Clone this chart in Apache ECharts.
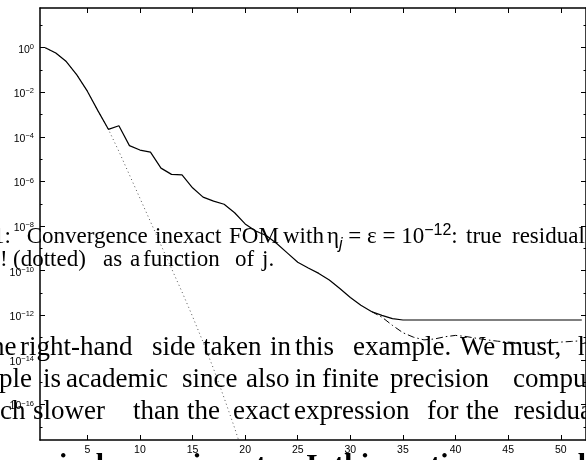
<!DOCTYPE html>
<html>
<head>
<meta charset="utf-8">
<script src="https://cdn.jsdelivr.net/npm/echarts@6/dist/echarts.min.js"></script>
<style>
  html, body { margin: 0; padding: 0; background: #fff; }
  #chart { width: 586px; height: 460px; }
</style>
</head>
<body>
<div id="chart"></div>
<script>
// iteration number j
var iterations = [1, 2, 3, 4, 5, 6, 7, 8, 9, 10, 11, 12, 13, 14, 15, 16, 17, 18, 19, 20,
  21, 22, 23, 24, 25, 26, 27, 28, 29, 30, 31, 32, 33, 34, 35, 36, 37, 38, 39, 40,
  41, 42, 43, 44, 45, 46, 47, 48, 49, 50, 51, 52];
// log10 of the residual norms
var solidRes = [0, -0.24, -0.62, -1.22, -1.95, -2.82, -3.66, -3.50, -4.39, -4.59,
  -4.68, -5.40, -5.68, -5.70, -6.28, -6.70, -6.88, -7.02, -7.40, -7.90,
  -8.22, -8.42, -8.78, -9.20, -9.62, -9.88, -10.12, -10.42, -10.80, -11.20,
  -11.55, -11.83, -12.00, -12.15, -12.21, -12.21, -12.21, -12.21, -12.21, -12.21,
  -12.21, -12.21, -12.21, -12.21, -12.21, -12.21, -12.21, -12.21, -12.21, -12.21,
  -12.21, -12.21];
var dottedIter = [1, 2, 3, 4, 5, 6, 7, 8, 9, 10, 11, 12, 13, 14, 15, 16, 17, 18, 19, 20];
var dottedRes = [0, -0.24, -0.62, -1.22, -1.95, -2.82, -3.66, -4.65, -5.70, -6.75,
  -7.80, -8.85, -9.90, -10.95, -12.05, -13.20, -14.40, -15.70, -17.05, -18.50];
var dashDotIter = [32, 33, 34, 35, 36, 37, 38, 39, 40, 41, 42, 43, 44, 45, 46, 47, 48, 49, 50, 51, 52];
var dashDotRes = [-11.83, -12.08, -12.45, -12.78, -12.98, -13.10, -13.06, -12.96, -12.90, -12.95,
  -13.03, -13.10, -13.16, -13.20, -13.23, -13.25, -13.25, -13.23, -13.20, -13.17, -13.14];

var xTicks = [5, 10, 15, 20, 25, 30, 35, 40, 45, 50];
var yTicksMajor = [-16, -14, -12, -10, -8, -6, -4, -2, 0];
var yTicksMinor = [-17, -15, -13, -11, -9, -7, -5, -3, -1, 1];

var xMin = 0.5, xMax = 52.4;
var yMin = -17.59, yMax = 1.78;

var axisFont = 'Liberation Sans, Arial, sans-serif';
var textFont = 'Liberation Serif, Times New Roman, serif';

function pairs(xs, ys) {
  return xs.map(function (x, i) { return [x, ys[i]]; });
}

function xAxis(position, withLabels) {
  return {
    type: 'value', position: position, min: xMin, max: xMax,
    axisLine: { show: true, onZero: false, lineStyle: { color: '#000', width: 1.5 } },
    axisTick: { show: true, inside: true, length: 5, customValues: xTicks, lineStyle: { color: '#000' } },
    axisLabel: withLabels ? {
      customValues: xTicks, margin: 5, color: '#000', fontSize: 10.5, fontFamily: axisFont
    } : { show: false },
    splitLine: { show: false }
  };
}

function yAxis(position, ticks, len, withLine, withLabels) {
  return {
    type: 'value', position: position, min: yMin, max: yMax,
    axisLine: { show: withLine, onZero: false, lineStyle: { color: '#000', width: 1.5 } },
    axisTick: { show: true, inside: true, length: len, customValues: ticks, lineStyle: { color: '#000' } },
    axisLabel: withLabels ? {
      customValues: ticks, margin: 6, color: '#000', padding: [4, 0, 0, 0],
      formatter: function (v) {
        var e = Math.round(v);
        return '{b|10}{s|' + (e === 0 ? '0' : '\u2212' + (-e)) + '}';
      },
      rich: {
        b: { fontSize: 10.5, fontFamily: axisFont, color: '#000', lineHeight: 14 },
        s: { fontSize: 7.5, fontFamily: axisFont, color: '#000', lineHeight: 8, verticalAlign: 'top' }
      }
    } : { show: false },
    splitLine: { show: false }
  };
}

// page text that overlaps the figure
function words(list, baseline, size, extra) {
  return list.map(function (w) {
    var st = { text: w[1], fill: '#000', fontFamily: textFont, fontSize: size,
      align: 'left', verticalAlign: 'middle' };
    for (var k in extra) st[k] = extra[k];
    return { type: 'text', x: w[0], y: baseline - 0.34 * size, z: 100, silent: true, style: st };
  });
}

var capSize = 23, parSize = 27;
var mathRich = {
  i: { fontStyle: 'italic' },
  sub: { fontSize: 16, fontStyle: 'italic', verticalAlign: 'bottom', lineHeight: 16 },
  sup: { fontSize: 16, verticalAlign: 'top', lineHeight: 16 }
};

var texts = [].concat(
  words([[-7, '1:'], [26.7, 'Convergence'], [155, 'inexact'], [229, 'FOM'], [283, 'with'],
    [466, 'true'], [512, 'residual']], 245, capSize),
  words([[327, '{i|\u03b7}{sub|j} = {i|\u03b5} = 10{sup|\u221212}:']], 245, capSize,
    { rich: mathRich, lineHeight: 30 }),
  words([[0, '!'], [13, '(dotted)'], [103, 'as'], [130, 'a'], [143, 'function'], [235, 'of'],
    [262, '{i|j}.']], 268, capSize, { rich: mathRich, lineHeight: 30 }),
  words([[-9, 'he'], [20, 'right-hand'], [152, 'side'], [203, 'taken'], [270, 'in'], [295, 'this'],
    [353, 'example.'], [460, 'We'], [502, 'must,'], [578, 'h']], 357, parSize),
  words([[-1, 'ple'], [43, 'is'], [66, 'academic'], [182, 'since'], [246, 'also'], [295, 'in'],
    [322, 'finite'], [390, 'precision'], [513, 'computation']], 389, parSize),
  words([[0, 'ch'], [33, 'slower'], [133, 'than'], [187, 'the'], [233, 'exact'], [294, 'expression'],
    [427, 'for'], [466, 'the'], [514, 'residual']], 421, parSize),
  words([[-26, 'numerical'], [121, 'experiments.'], [306, 'In'], [334, 'this'], [392, 'section'],
    [488, 'we'], [531, 'analyze']], 476, 30, { fontWeight: 'bold' })
);

var chart = echarts.init(document.getElementById('chart'));
chart.setOption({
  animation: false,
  backgroundColor: '#fff',
  grid: { left: 40, top: 8, width: 549, height: 432 },
  xAxis: [xAxis('bottom', true), xAxis('top', false)],
  yAxis: [
    yAxis('left', yTicksMajor, 5, true, true),
    yAxis('right', yTicksMajor, 5, true, false),
    yAxis('left', yTicksMinor, 2.5, false, false),
    yAxis('right', yTicksMinor, 2.5, false, false)
  ],
  series: [
    {
      type: 'line', name: 'dotted', xAxisIndex: 0, yAxisIndex: 0, showSymbol: false,
      data: pairs(dottedIter, dottedRes), z: 2,
      lineStyle: { color: '#555', width: 1, type: [1, 3] }
    },
    {
      type: 'line', name: 'dash-dot', xAxisIndex: 0, yAxisIndex: 0, showSymbol: false,
      data: pairs(dashDotIter, dashDotRes), z: 3,
      lineStyle: { color: '#000', width: 1, type: [7, 3, 1.5, 3] }
    },
    {
      type: 'line', name: 'solid', xAxisIndex: 0, yAxisIndex: 0, showSymbol: false,
      data: pairs(iterations, solidRes), z: 4,
      lineStyle: { color: '#000', width: 1.2 }
    }
  ],
  graphic: texts
});
</script>
</body>
</html>
